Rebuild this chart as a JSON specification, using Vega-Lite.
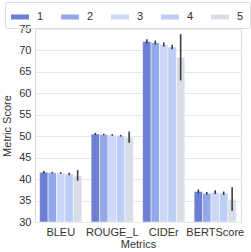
{
  "$schema": "https://vega.github.io/schema/vega-lite/v6.json",
  "autosize": {"type": "none"},
  "width": 206,
  "height": 193,
  "padding": {"left": 35, "right": 10, "top": 29, "bottom": 30},
  "background": "white",
  "config": {
    "font": "Liberation Sans",
    "view": {"stroke": "#d9d9d9", "strokeWidth": 1},
    "axis": {"labelFont": "Liberation Sans", "titleFont": "Liberation Sans", "labelColor": "#333333", "titleColor": "#333333", "labelFontSize": 11, "titleFontSize": 11, "titleFontWeight": "normal", "domain": false, "ticks": false, "gridColor": "#e6e6e6", "labelOverlap": false},
    "legend": {"labelFont": "Liberation Sans", "labelFontSize": 11, "labelColor": "#333333"}
  },
  "data": {"values": [
    {"metric": "BLEU", "run": "1", "value": 41.6, "lo": 41.3, "hi": 41.9},
    {"metric": "BLEU", "run": "2", "value": 41.5, "lo": 41.3, "hi": 41.7},
    {"metric": "BLEU", "run": "3", "value": 41.4, "lo": 41.2, "hi": 41.6},
    {"metric": "BLEU", "run": "4", "value": 41.2, "lo": 40.9, "hi": 41.5},
    {"metric": "BLEU", "run": "5", "value": 40.8, "lo": 39.6, "hi": 42.1},
    {"metric": "ROUGE_L", "run": "1", "value": 50.5, "lo": 50.3, "hi": 50.8},
    {"metric": "ROUGE_L", "run": "2", "value": 50.4, "lo": 50.2, "hi": 50.6},
    {"metric": "ROUGE_L", "run": "3", "value": 50.3, "lo": 50.1, "hi": 50.5},
    {"metric": "ROUGE_L", "run": "4", "value": 50.1, "lo": 49.9, "hi": 50.3},
    {"metric": "ROUGE_L", "run": "5", "value": 49.8, "lo": 48.5, "hi": 51.1},
    {"metric": "CIDEr", "run": "1", "value": 72.1, "lo": 71.7, "hi": 72.6},
    {"metric": "CIDEr", "run": "2", "value": 71.8, "lo": 71.4, "hi": 72.3},
    {"metric": "CIDEr", "run": "3", "value": 71.4, "lo": 70.9, "hi": 71.9},
    {"metric": "CIDEr", "run": "4", "value": 70.8, "lo": 70.3, "hi": 71.3},
    {"metric": "CIDEr", "run": "5", "value": 68.4, "lo": 63.0, "hi": 73.8},
    {"metric": "BERTScore", "run": "1", "value": 37.1, "lo": 36.7, "hi": 37.6},
    {"metric": "BERTScore", "run": "2", "value": 36.7, "lo": 36.4, "hi": 37.0},
    {"metric": "BERTScore", "run": "3", "value": 36.9, "lo": 36.5, "hi": 37.4},
    {"metric": "BERTScore", "run": "4", "value": 36.7, "lo": 36.3, "hi": 37.1},
    {"metric": "BERTScore", "run": "5", "value": 35.3, "lo": 32.6, "hi": 38.1}
  ]},
  "encoding": {
    "x": {"field": "metric", "type": "nominal", "sort": ["BLEU", "ROUGE_L", "CIDEr", "BERTScore"], "title": "Metrics", "scale": {"paddingInner": 0.18, "paddingOuter": 0.09}, "axis": {"labelAngle": 0, "titlePadding": 1, "labelPadding": 4}},
    "xOffset": {"field": "run", "type": "nominal", "sort": ["1", "2", "3", "4", "5"]}
  },
  "layer": [
    {
      "mark": {"type": "bar", "stroke": "white", "strokeWidth": 0.5},
      "encoding": {
        "y": {"field": "value", "type": "quantitative", "title": "Metric Score", "scale": {"domain": [30, 75], "nice": false, "zero": false}, "axis": {"values": [30, 35, 40, 45, 50, 55, 60, 65, 70, 75], "labelOverlap": false, "labelPadding": 4, "titlePadding": 6}},
        "y2": {"datum": 30},
        "color": {"field": "run", "type": "nominal", "sort": ["1", "2", "3", "4", "5"], "title": null,
          "scale": {"domain": ["1", "2", "3", "4", "5"], "range": ["#6c7fd4", "#93a8e8", "#cbd8f7", "#bccef5", "#d9dde9"]},
          "legend": {"orient": "none", "legendX": -30, "legendY": -27, "direction": "horizontal", "columns": 5, "columnPadding": 17, "symbolType": "M-1,-0.28H1V0.28H-1Z", "symbolSize": 320, "symbolStrokeWidth": 0, "labelOffset": 8, "strokeColor": "#dddddd", "padding": 6, "cornerRadius": 2}}
      }
    },
    {
      "mark": {"type": "rule", "color": "#3c3c3c", "strokeWidth": 1.6},
      "encoding": {
        "y": {"field": "lo", "type": "quantitative", "title": "Metric Score", "scale": {"domain": [30, 75], "nice": false, "zero": false}, "axis": {"values": [30, 35, 40, 45, 50, 55, 60, 65, 70, 75], "labelOverlap": false, "labelPadding": 4, "titlePadding": 6}},
        "y2": {"field": "hi"}
      }
    }
  ]
}
